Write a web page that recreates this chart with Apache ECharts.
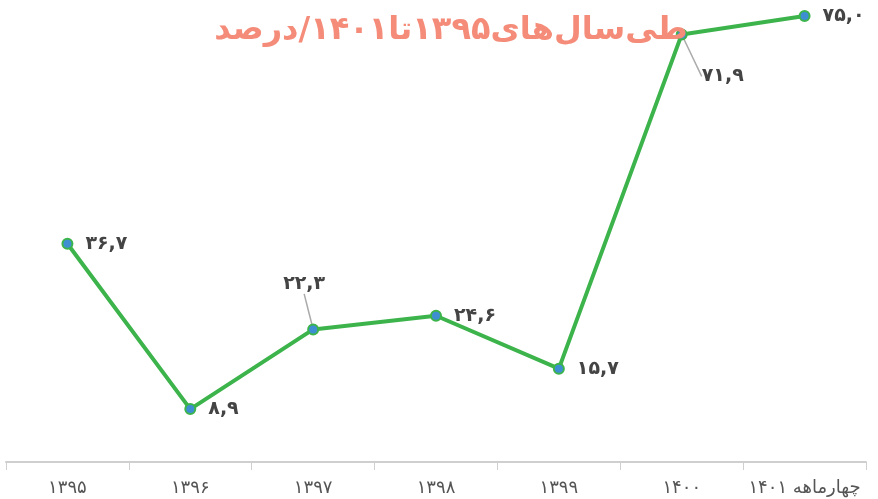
<!DOCTYPE html>
<html>
<head>
<meta charset="utf-8">
<script src="https://cdn.jsdelivr.net/npm/echarts@6/dist/echarts.min.js"></script>
<style>
html,body{margin:0;padding:0;background:#fff;}
#main{width:878px;height:499px;}
</style>
</head>
<body>
<div id="main"></div>
<script>
var categories = ['۱۳۹۵', '۱۳۹۶', '۱۳۹۷', '۱۳۹۸', '۱۳۹۹', '۱۴۰۰', 'چهارماهه ۱۴۰۱']
var values = [36.7, 8.9, 22.3, 24.6, 15.7, 71.9, 75.0]
var titleText = 'طی‌سال‌های۱۳۹۵تا۱۴۰۱/درصد'

// persian digits with comma separator
function fa (v) {
  var s = v.toFixed(1).replace('.', ',')
  return s.replace(/[0-9]/g, function (d) { return '۰۱۲۳۴۵۶۷۸۹'[d] })
}

// label shifts (dx, dy) for the few labels that sit away from the point
var labelShift = { 2: [-48, -45], 5: [2, 42] }

var seriesData = values.map(function (v, i) {
  var item = { value: v }
  if (labelShift[i]) item.labelLine = { show: true }
  return item
})

var myChart = echarts.init(document.getElementById('main'))
var option = {
  animation: false,
  textStyle: { fontFamily: 'DejaVu Sans' },
  title: {
    text: titleText,
    left: 446,
    top: 10,
    textAlign: 'center',
    textStyle: { color: '#f48c79', fontSize: 32, fontWeight: 'bold', fontFamily: 'DejaVu Sans' }
  },
  grid: { left: 6, right: 12, top: 16, bottom: 37 },
  xAxis: {
    type: 'category',
    data: categories,
    axisLine: { lineStyle: { color: '#cfcfcf', width: 2 } },
    axisTick: { show: true, interval: 0, length: 8, lineStyle: { color: '#cfcfcf' } },
    axisLabel: { interval: 0, color: '#555', fontSize: 18, margin: 17 }
  },
  yAxis: {
    type: 'value',
    min: 0,
    max: 75,
    show: false,
    splitLine: { show: false }
  },
  series: [{
    type: 'line',
    data: seriesData,
    symbol: 'circle',
    symbolSize: 10,
    itemStyle: { color: '#3d8fd2', borderColor: '#3cb44b', borderWidth: 2 },
    lineStyle: { color: '#3cb44b', width: 4 },
    label: {
      show: true,
      position: 'right',
      distance: 12,
      color: '#444',
      fontSize: 19,
      fontWeight: 'bold',
      formatter: function (p) { return fa(p.value) }
    },
    labelLine: { show: false, lineStyle: { color: '#aaa', width: 1.5 } },
    labelLayout: function (p) {
      var s = labelShift[p.dataIndex]
      if (!s) return {}
      return { dx: s[0], dy: s[1] }
    }
  }]
}
myChart.setOption(option)
</script>
</body>
</html>
